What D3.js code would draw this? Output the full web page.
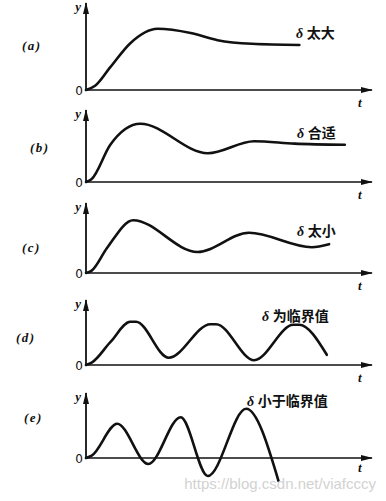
<!DOCTYPE html>
<html>
<head>
<meta charset="utf-8">
<script src="https://cdn.jsdelivr.net/npm/d3@7"></script>
<style>
  body { margin: 0; background: #fff; }
  svg { display: block; }
</style>
</head>
<body>
<script>
// panel labels and notes
const labels = ['(a)', '(b)', '(c)', '(d)', '(e)'];
const notes = ['太大', '合适', '太小', '为临界值', '小于临界值'];

// response curves, t in [0,10], y in units of the step
const tA = [0, 0.32, 0.85, 1.55, 2.5, 3.66, 4.6, 5.8, 7.46];
const yA = [0, 0.07, 0.38, 0.78, 1.02, 0.95, 0.83, 0.77, 0.75];

const tB = [0, 0.2, 0.85, 1.9, 4.26, 5.88, 7.29, 9.05];
const yB = [0, 0.05, 0.62, 0.97, 0.48, 0.68, 0.64, 0.62];

const tC = [0, 0.2, 0.74, 1.65, 3.9, 5.7, 7.9, 8.5];
const yC = [0, 0.04, 0.42, 0.88, 0.35, 0.67, 0.43, 0.48];

const tD = [0, 0.2, 0.85, 1.55, 1.75, 2.89, 4.35, 4.55, 5.88, 7.25, 7.45, 8.42];
const yD = [0, 0.04, 0.38, 0.72, 0.72, 0.12, 0.68, 0.68, 0.08, 0.67, 0.67, 0.17];

const tE = [0, 0.2, 1.09, 2.18, 3.31, 4.26, 5.6, 6.73];
const yE = [0, 0.04, 0.57, -0.1, 0.68, -0.3, 0.82, -0.38];

const series = [[tA, yA], [tB, yB], [tC, yC], [tD, yD], [tE, yE]];

// layout
const W = 386, H = 501;
const origin = [90, 182, 273, 365, 458];
const axisTop = [3, 110, 203, 300, 393];
const unit = 60;
const labelPos = [[22, 50], [30, 152], [22, 252], [16, 342], [24, 422]];
const notePos = [[296, 38], [297, 138], [297, 236], [262, 321], [247, 406]];

const x = d3.scaleLinear().domain([0, 10]).range([86, 372]);

const svg = d3.select('body').append('svg')
    .attr('width', W)
    .attr('height', H);

svg.append('defs').append('marker')
    .attr('id', 'arrow')
    .attr('viewBox', '0 0 12 6')
    .attr('refX', 11)
    .attr('refY', 3)
    .attr('markerWidth', 12)
    .attr('markerHeight', 6)
    .attr('markerUnits', 'userSpaceOnUse')
    .attr('orient', 'auto')
    .append('path')
    .attr('d', 'M0,0L12,3L0,6Z')
    .attr('fill', '#111');

series.forEach((s, i) => {
    const y = d3.scaleLinear().domain([0, 1]).range([origin[i], origin[i] - unit]);
    const g = svg.append('g');

    // axes
    g.append('line')
        .attr('x1', x(0)).attr('y1', y(0))
        .attr('x2', x.range()[1]).attr('y2', y(0))
        .attr('stroke', '#111').attr('stroke-width', 1.6)
        .attr('marker-end', 'url(#arrow)');
    g.append('line')
        .attr('x1', x(0)).attr('y1', y(0))
        .attr('x2', x(0)).attr('y2', axisTop[i])
        .attr('stroke', '#111').attr('stroke-width', 1.8)
        .attr('marker-end', 'url(#arrow)');

    g.append('text')
        .attr('x', x(0) - 3).attr('y', y(0) + 5)
        .attr('text-anchor', 'end')
        .attr('font-family', 'DejaVu Sans')
        .attr('font-size', 12)
        .attr('fill', '#111')
        .text('0');
    g.append('text')
        .attr('x', x(0) - 5).attr('y', axisTop[i] + 8)
        .attr('text-anchor', 'end')
        .attr('font-family', 'Liberation Serif')
        .attr('font-style', 'italic')
        .attr('font-weight', 'bold')
        .attr('font-size', 13)
        .attr('fill', '#111')
        .text('y');
    g.append('text')
        .attr('x', 358).attr('y', y(0) + (i === 4 ? 14 : 17))
        .attr('font-family', 'Liberation Serif')
        .attr('font-style', 'italic')
        .attr('font-weight', 'bold')
        .attr('font-size', 13)
        .attr('fill', '#111')
        .text('t');

    g.append('text')
        .attr('x', labelPos[i][0]).attr('y', labelPos[i][1])
        .attr('font-family', 'Liberation Serif')
        .attr('font-style', 'italic')
        .attr('font-weight', 'bold')
        .attr('font-size', 13)
        .attr('letter-spacing', 1.5)
        .attr('fill', '#111')
        .text(labels[i]);

    const note = g.append('text')
        .attr('x', notePos[i][0]).attr('y', notePos[i][1])
        .attr('fill', '#111');
    note.append('tspan')
        .attr('font-family', 'Liberation Serif')
        .attr('font-style', 'italic')
        .attr('font-weight', 'bold')
        .attr('font-size', 14)
        .text('δ ');
    note.append('tspan')
        .attr('font-family', 'Noto Sans CJK SC')
        .attr('font-weight', 'bold')
        .attr('font-size', 14)
        .text(notes[i]);

    const pts = s[0].map((t, k) => [t, s[1][k]]);
    const line = d3.line()
        .x(d => x(d[0]))
        .y(d => y(d[1]))
        .curve(d3.curveMonotoneX);
    g.append('path')
        .attr('d', line(pts))
        .attr('fill', 'none')
        .attr('stroke', '#111')
        .attr('stroke-width', 2.6)
        .attr('stroke-linejoin', 'round')
        .attr('stroke-linecap', 'round');
});

// watermark
svg.append('text')
    .attr('x', 376).attr('y', 489)
    .attr('text-anchor', 'end')
    .attr('font-family', 'Liberation Sans')
    .attr('font-size', 15)
    .attr('fill', '#d2d2d2')
    .text('https://blog.csdn.net/viafcccy');
</script>
</body>
</html>
